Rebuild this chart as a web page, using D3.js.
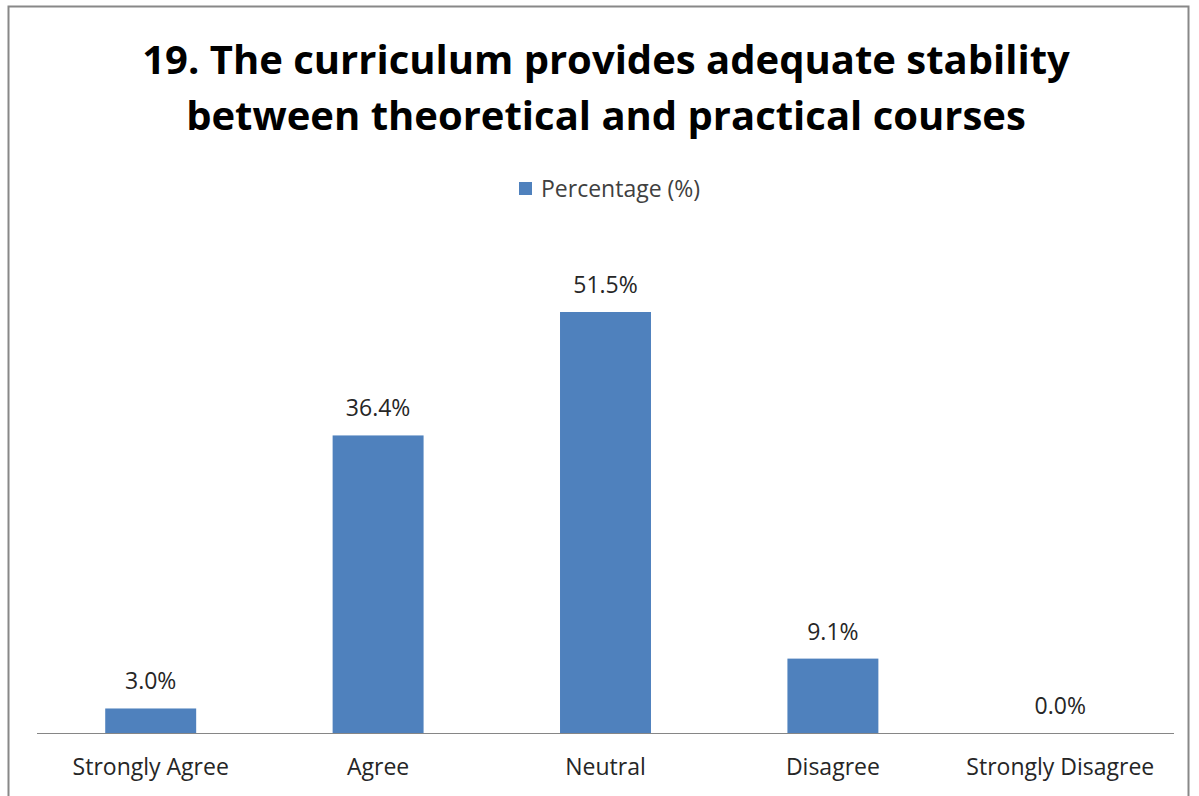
<!DOCTYPE html>
<meta charset="utf-8">
<script src="https://d3js.org/d3.v7.min.js"></script>
<style>
  body { margin: 0; background: #fff; }
  svg text { font-family: "Open Sans", "Lato", sans-serif; }
</style>
<div id="chart"></div>
<script>
  // data
  var categories = ["Strongly Agree", "Agree", "Neutral", "Disagree", "Strongly Disagree"];
  var percentages = [3.0, 36.4, 51.5, 9.1, 0.0];
  var seriesName = "Percentage (%)";
  var titleLines = ["19. The curriculum provides adequate stability",
                    "between theoretical and practical courses"];

  var W = 1199, H = 796;
  var plotBottom = 733;

  var svg = d3.select("#chart").append("svg")
    .attr("width", W)
    .attr("height", H);

  // outer border of the chart area
  svg.append("rect")
    .attr("x", 8.5).attr("y", 6.5)
    .attr("width", 1180).attr("height", 820)
    .attr("fill", "none")
    .attr("stroke", "#888")
    .attr("stroke-width", 2);

  var x = d3.scaleBand()
    .domain(categories)
    .range([37, 1174])
    .paddingInner(0.6)
    .paddingOuter(0.3);

  // 51.5% reaches y=312
  var y = d3.scaleLinear()
    .domain([0, 51.5])
    .range([plotBottom, 312]);

  // title
  svg.append("g").selectAll("text")
    .data(titleLines)
    .enter().append("text")
    .attr("x", 606)
    .attr("y", function (d, i) { return 74 + i * 56; })
    .attr("text-anchor", "middle")
    .attr("font-size", 40)
    .attr("font-weight", "bold")
    .attr("fill", "#000")
    .text(function (d) { return d; });

  // legend
  svg.append("rect")
    .attr("x", 519).attr("y", 182)
    .attr("width", 13).attr("height", 13)
    .attr("fill", "#4F81BD");
  svg.append("text")
    .attr("x", 541).attr("y", 197)
    .attr("font-size", 23)
    .attr("fill", "#404040")
    .text(seriesName);

  // bars
  svg.append("g").selectAll("rect")
    .data(percentages)
    .enter().append("rect")
    .attr("x", function (d, i) { return x(categories[i]); })
    .attr("y", function (d) { return y(d); })
    .attr("width", x.bandwidth())
    .attr("height", function (d) { return plotBottom - y(d); })
    .attr("fill", "#4F81BD");

  // value labels
  svg.append("g").selectAll("text")
    .data(percentages)
    .enter().append("text")
    .attr("x", function (d, i) { return x(categories[i]) + x.bandwidth() / 2; })
    .attr("y", function (d) { return y(d) - 19; })
    .attr("text-anchor", "middle")
    .attr("font-size", 23)
    .attr("fill", "#262626")
    .text(function (d) { return d.toFixed(1) + "%"; });

  // x axis
  var xAxis = svg.append("g")
    .attr("transform", "translate(0," + plotBottom + ")")
    .call(d3.axisBottom(x).tickSize(0).tickPadding(26));
  xAxis.select(".domain").attr("stroke", "#868686").attr("d", "M37,0.5H1174");
  xAxis.selectAll("text")
    .attr("font-size", 23)
    .attr("font-family", "Open Sans")
    .attr("fill", "#262626");
</script>
